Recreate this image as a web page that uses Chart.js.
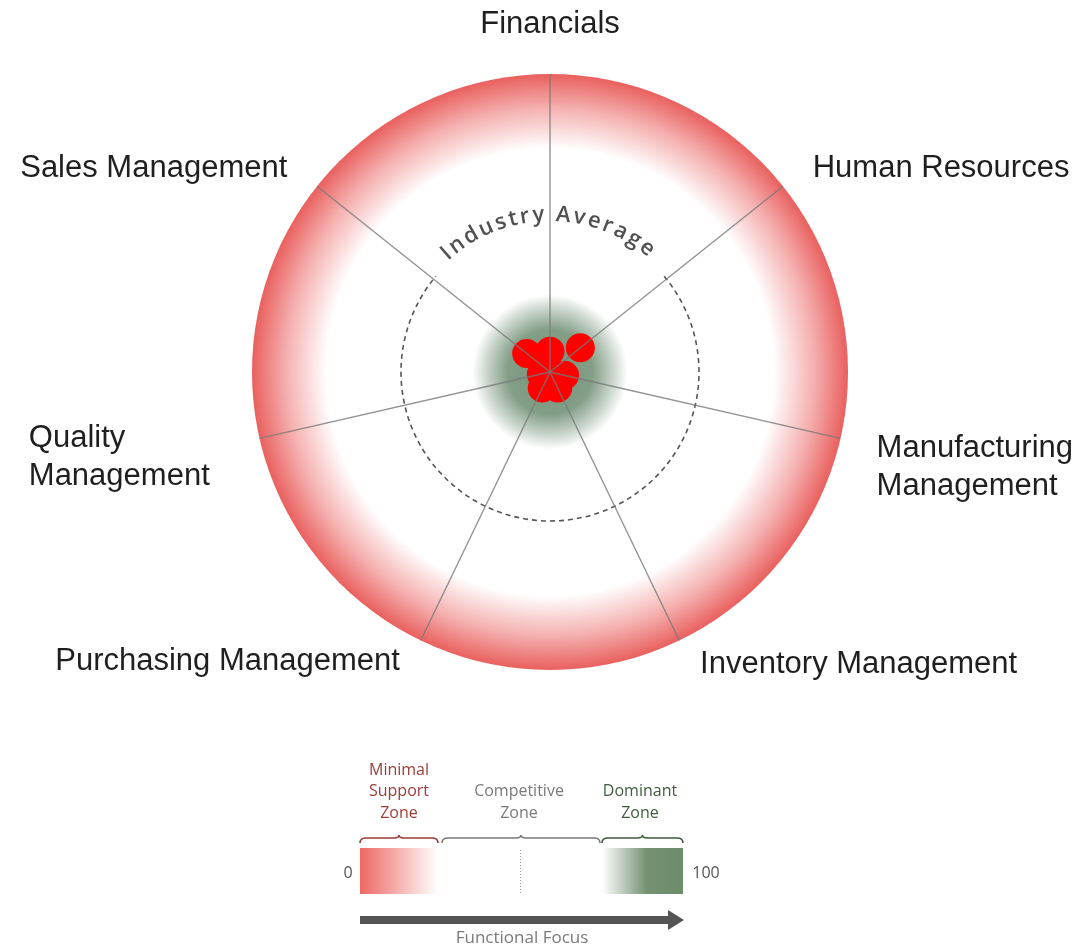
<!DOCTYPE html>
<html>
<head>
<meta charset="utf-8">
<title>Functional Focus</title>
<script src="https://cdn.jsdelivr.net/npm/chart.js@4/dist/chart.umd.min.js"></script>
<style>
  html, body { margin: 0; padding: 0; background: #ffffff; }
  #wrap { width: 1092px; height: 947px; }
</style>
</head>
<body>
<div id="wrap"><canvas id="focusChart" width="1092" height="947"></canvas></div>
<script>
// --- data ---
const axisLabels = [
    ['Financials'],
    ['Human Resources'],
    ['Manufacturing', 'Management'],
    ['Inventory Management'],
    ['Purchasing Management'],
    ['Quality', 'Management'],
    ['Sales Management']
];
const focusScores = [93, 87, 95, 94, 94, 97, 90];
const industryAverage = 50;
const zoneMinimal = [0, 25];     // red fade
const zoneDominant = [74, 100];  // green fade
const scaleRange = [0, 100];

// label placement (distance past the rim, vertical nudge)
const labelPad = [52, 38, 37, 48, 48, 51, 38];
const labelShiftY = [0, 3, 18, -22, -25, 5, 3];

const RED = [233, 96, 94];
const GREEN = [118, 148, 122];

function rgba(c, a) {
    return 'rgba(' + c[0] + ',' + c[1] + ',' + c[2] + ',' + a + ')';
}

// zones, industry average ring and curved caption, under the points
const backdropPlugin = {
    id: 'backdrop',
    beforeDatasetsDraw(chart) {
        const s = chart.scales.r;
        const ctx = chart.ctx;
        const cx = s.xCenter, cy = s.yCenter;
        const rOuter = s.getDistanceFromCenterForValue(zoneMinimal[0]);
        const rRed = s.getDistanceFromCenterForValue(zoneMinimal[1]);
        const rGreen = s.getDistanceFromCenterForValue(zoneDominant[0]);
        ctx.save();

        // minimal support ring
        let g = ctx.createRadialGradient(cx, cy, rRed, cx, cy, rOuter);
        g.addColorStop(0, rgba(RED, 0));
        g.addColorStop(0.55, rgba(RED, 0.5));
        g.addColorStop(1, rgba(RED, 1));
        ctx.fillStyle = g;
        ctx.beginPath();
        ctx.arc(cx, cy, rOuter, 0, Math.PI * 2);
        ctx.fill();

        // dominant core
        g = ctx.createRadialGradient(cx, cy, 0, cx, cy, rGreen);
        g.addColorStop(0, rgba(GREEN, 1));
        g.addColorStop(0.55, rgba(GREEN, 0.9));
        g.addColorStop(0.82, rgba(GREEN, 0.38));
        g.addColorStop(1, rgba(GREEN, 0));
        ctx.fillStyle = g;
        ctx.beginPath();
        ctx.arc(cx, cy, rGreen, 0, Math.PI * 2);
        ctx.fill();

        // industry average dashed ring (gap at the top for the caption)
        const rAvg = s.getDistanceFromCenterForValue(industryAverage);
        const deg = Math.PI / 180;
        ctx.setLineDash([5, 4]);
        ctx.strokeStyle = '#555555';
        ctx.lineWidth = 1.6;
        ctx.beginPath();
        ctx.arc(cx, cy, rAvg, -40 * deg, 220 * deg);
        ctx.stroke();
        ctx.setLineDash([]);

        // curved caption
        const text = 'Industry Average';
        ctx.font = '600 22px "Open Sans", sans-serif';
        ctx.fillStyle = '#505050';
        ctx.textAlign = 'center';
        ctx.textBaseline = 'alphabetic';
        const rb = rAvg + 2;
        const span = 83 * deg * rb;
        const widths = [...text].map(ch => ctx.measureText(ch).width);
        const natural = widths.reduce((a, b) => a + b, 0);
        const gap = (span - natural) / (text.length - 1);
        let off = -span / 2 - 1 * deg * rb;
        [...text].forEach((ch, i) => {
            const th = (off + widths[i] / 2) / rb;
            ctx.save();
            ctx.translate(cx + rb * Math.sin(th), cy - rb * Math.cos(th));
            ctx.rotate(th);
            ctx.fillText(ch, 0, 0);
            ctx.restore();
            off += widths[i] + gap;
        });
        ctx.restore();
    }
};

// axis names around the wheel
const axisNamePlugin = {
    id: 'axisNames',
    afterDraw(chart) {
        const s = chart.scales.r;
        const ctx = chart.ctx;
        ctx.save();
        ctx.font = '31px "Liberation Sans", Arial, sans-serif';
        ctx.fillStyle = '#1f1f1f';
        ctx.textBaseline = 'alphabetic';
        const lineH = 38;
        axisLabels.forEach((lines, i) => {
            const p = s.getPointPosition(i, s.drawingArea + labelPad[i]);
            const sin = Math.cos(p.angle);
            const widest = Math.max(...lines.map(l => ctx.measureText(l).width));
            lines.forEach((line, k) => {
                const y = p.y + labelShiftY[i] + (k - (lines.length - 1) / 2) * lineH + 11;
                if (Math.abs(sin) < 0.1) {
                    ctx.textAlign = 'center';
                    ctx.fillText(line, p.x, y);
                } else if (sin > 0) {
                    ctx.textAlign = 'left';
                    ctx.fillText(line, p.x, y);
                } else {
                    ctx.textAlign = 'left';
                    ctx.fillText(line, p.x - widest, y);
                }
            });
        });
        ctx.restore();
    }
};

function drawBrace(ctx, x1, x2, y, color) {
    const mid = (x1 + x2) / 2;
    ctx.strokeStyle = color;
    ctx.lineWidth = 1.6;
    ctx.beginPath();
    ctx.moveTo(x1, y + 5);
    ctx.quadraticCurveTo(x1, y, x1 + 6, y);
    ctx.lineTo(mid - 5, y);
    ctx.quadraticCurveTo(mid, y, mid, y - 3);
    ctx.quadraticCurveTo(mid, y, mid + 5, y);
    ctx.lineTo(x2 - 6, y);
    ctx.quadraticCurveTo(x2, y, x2, y + 5);
    ctx.stroke();
}

// zone key under the chart
const zoneKeyPlugin = {
    id: 'zoneKey',
    afterDraw(chart) {
        const ctx = chart.ctx;
        ctx.save();
        ctx.font = '16px "Open Sans", sans-serif';
        ctx.textAlign = 'center';
        ctx.textBaseline = 'middle';

        const blocks = [
            { lines: ['Minimal', 'Support', 'Zone'], x: 399, color: '#9b3c37', from: 360, to: 438 },
            { lines: ['Competitive', 'Zone'], x: 519, color: '#7a7a7a', from: 442, to: 600 },
            { lines: ['Dominant', 'Zone'], x: 640, color: '#3f5c3d', from: 602, to: 683 }
        ];
        blocks.forEach(b => {
            ctx.fillStyle = b.color;
            const top = 813 - (b.lines.length - 1) * 21.5;
            b.lines.forEach((l, k) => ctx.fillText(l, b.x, top + k * 21.5));
            drawBrace(ctx, b.from, b.to, 838, b.color);
        });

        // gradient bars
        let g = ctx.createLinearGradient(360, 0, 438, 0);
        g.addColorStop(0, rgba([236, 104, 100], 1));
        g.addColorStop(1, rgba([236, 104, 100], 0));
        ctx.fillStyle = g;
        ctx.fillRect(360, 848, 78, 46);
        g = ctx.createLinearGradient(602, 0, 683, 0);
        g.addColorStop(0, rgba([108, 140, 106], 0));
        g.addColorStop(0.55, rgba([108, 140, 106], 0.95));
        g.addColorStop(1, rgba([108, 140, 106], 1));
        ctx.fillStyle = g;
        ctx.fillRect(602, 848, 81, 46);

        // midpoint dotted mark
        ctx.strokeStyle = '#9a9a9a';
        ctx.lineWidth = 1;
        ctx.setLineDash([1, 2]);
        ctx.beginPath();
        ctx.moveTo(520.5, 850);
        ctx.lineTo(520.5, 894);
        ctx.stroke();
        ctx.setLineDash([]);

        // end values
        ctx.fillStyle = '#555555';
        ctx.fillText(String(scaleRange[0]), 348, 873);
        ctx.fillText(String(scaleRange[1]), 706, 873);

        // arrow
        ctx.fillStyle = '#555555';
        ctx.fillRect(360, 916, 310, 8);
        ctx.beginPath();
        ctx.moveTo(668, 910);
        ctx.lineTo(684, 920);
        ctx.lineTo(668, 930);
        ctx.closePath();
        ctx.fill();

        ctx.fillStyle = '#7a7a7a';
        ctx.font = '17px "Open Sans", sans-serif';
        ctx.fillText('Functional Focus', 522, 938);
        ctx.restore();
    }
};

const ctx = document.getElementById('focusChart');
new Chart(ctx, {
    type: 'radar',
    data: {
        labels: axisLabels.map(l => l.join(' ')),
        datasets: [{
            label: 'Functional Focus',
            data: focusScores,
            fill: false,
            borderWidth: 0,
            borderColor: 'rgba(0,0,0,0)',
            backgroundColor: 'rgba(0,0,0,0)',
            pointRadius: 14.5,
            pointHoverRadius: 14.5,
            pointBackgroundColor: '#ff0000',
            pointBorderWidth: 0
        }]
    },
    options: {
        responsive: false,
        animation: false,
        layout: {
            padding: { left: 252, right: 244, top: 74, bottom: 277 }
        },
        plugins: {
            legend: { display: false },
            tooltip: { enabled: false }
        },
        scales: {
            r: {
                min: scaleRange[0],
                max: scaleRange[1],
                reverse: true,
                startAngle: 0,
                ticks: { display: false, stepSize: 50 },
                // grid layer above the datasets so the spokes cross the points
                grid: { display: false, z: 1 },
                angleLines: { display: true, color: 'rgba(120,120,120,0.8)', lineWidth: 1.4 },
                pointLabels: { display: false }
            }
        }
    },
    plugins: [backdropPlugin, axisNamePlugin, zoneKeyPlugin]
});
</script>
</body>
</html>
